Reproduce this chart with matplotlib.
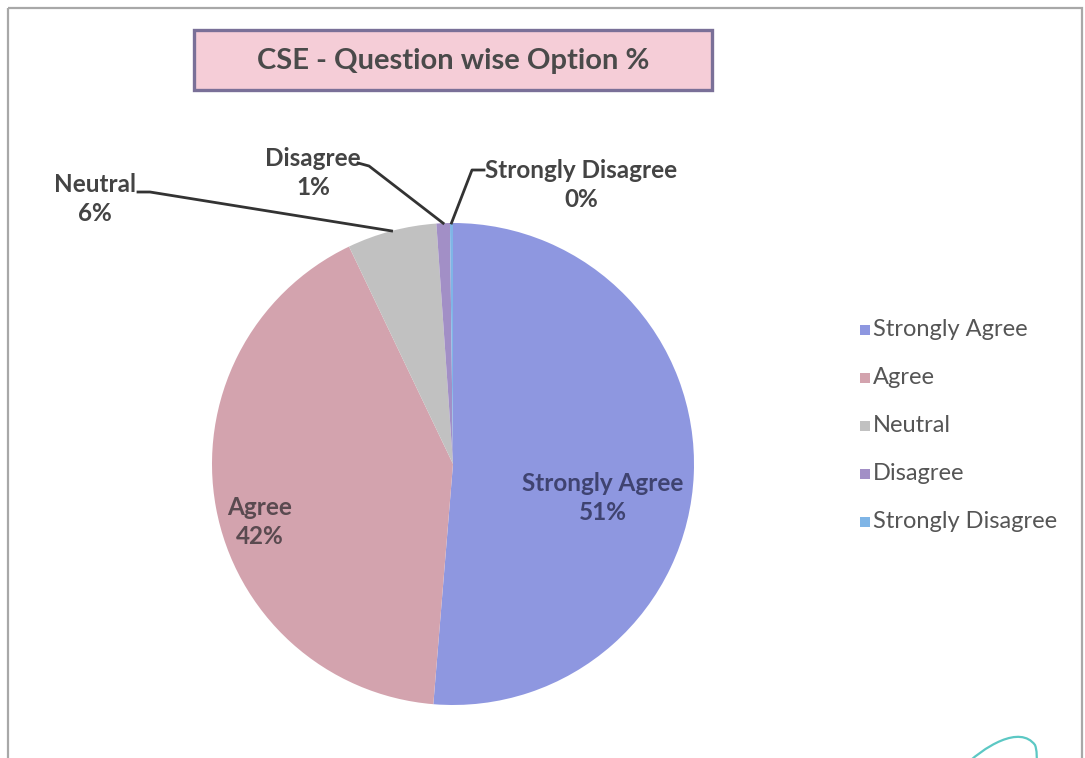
import numpy as np
import matplotlib
matplotlib.use("Agg")
import matplotlib.pyplot as plt
from matplotlib.patches import Rectangle, PathPatch
from matplotlib.path import Path

# ---- data ----
categories = ["Strongly Agree", "Agree", "Neutral", "Disagree", "Strongly Disagree"]
values = [51.3, 41.6, 6.0, 0.9, 0.2]
colors = ["#8E97E0", "#D3A3AE", "#C1C1C1", "#A28FC6", "#7FB5E6"]
title = "CSE - Question wise Option %"

W, H = 1085, 758
fig = plt.figure(figsize=(W / 100, H / 100), dpi=100)
fig.patch.set_facecolor("white")

# overlay axes in pixel coordinates
ov = fig.add_axes([0, 0, 1, 1])
ov.set_xlim(0, W)
ov.set_ylim(H, 0)
ov.axis("off")

txt_col = "#444444"
FONT = ["Lato", "DejaVu Sans"]

# outer chart frame
ov.add_patch(Rectangle((8, 8), 1074, 800, fill=False, ec="#A8A8A8", lw=1.6, clip_on=True))

# title box
ov.add_patch(Rectangle((194, 30), 518, 60, fc="#F5CDD7", ec="#7A7098", lw=2.4))
ov.text(453, 61, title, ha="center", va="center", fontsize=21, fontweight="bold",
        color="#4A4A4A", family=FONT)

# pie
cx, cy, r = 453, 464, 241
pax = fig.add_axes([(cx - r) / W, (H - cy - r) / H, 2 * r / W, 2 * r / H])
wedges, _ = pax.pie(values, colors=colors, startangle=90, counterclock=False,
                    radius=1.0, wedgeprops=dict(linewidth=0))
pax.set_xlim(-1, 1)
pax.set_ylim(-1, 1)
pax.set_aspect("equal")
pax.axis("off")

def edge_point(i, frac=1.0):
    w = wedges[i]
    th = np.deg2rad((w.theta1 + w.theta2) / 2)
    disp = pax.transData.transform((frac * np.cos(th), frac * np.sin(th)))
    return ov.transData.inverted().transform(disp)

labels = [f"{c}\n{round(v):.0f}%" for c, v in zip(categories, values)]

LFS = 17.5
LS = 1.32
# inside labels
ov.text(603, 498, labels[0], ha="center", va="center", fontsize=LFS, fontweight="bold",
        color="#3F4370", family=FONT, linespacing=LS)
ov.text(260, 522, labels[1], ha="center", va="center", fontsize=LFS, fontweight="bold",
        color="#5A4A50", family=FONT, linespacing=LS)

# outside labels with leader lines
outside = {
    2: dict(pos=(95, 199), path=[(138, 192), (150, 192)]),
    3: dict(pos=(313, 173), path=[(358, 163), (369, 166)]),
    4: dict(pos=(581, 185), path=[(484, 170), (472, 170)]),
}
for i, d in outside.items():
    ov.text(d["pos"][0], d["pos"][1], labels[i], ha="center", va="center", fontsize=LFS,
            fontweight="bold", color=txt_col, family=FONT, linespacing=LS)
    px, py = edge_point(i)
    xs = [p[0] for p in d["path"]] + [px]
    ys = [p[1] for p in d["path"]] + [py]
    ov.plot(xs, ys, color="#333333", lw=2.0, zorder=5)
ov.set_zorder(3)
ov.patch.set_alpha(0)

# legend
leg_y0, leg_dy = 330, 48
for k, (c, col) in enumerate(zip(categories, colors)):
    y = leg_y0 + k * leg_dy
    ov.add_patch(Rectangle((860, y - 5), 10, 10, fc=col, ec="none"))
    ov.text(873, y, c, ha="left", va="center", fontsize=17, color="#555555", family=FONT)

# pen scribble bottom right
verts = [(960, 770), (985, 745), (1020, 725), (1035, 745), (1038, 752), (1036, 770)]
codes = [Path.MOVETO, Path.CURVE4, Path.CURVE4, Path.CURVE4, Path.CURVE3, Path.CURVE3]
ov.add_patch(PathPatch(Path(verts, codes), fill=False, ec="#5CC8C4", lw=1.6))

fig.savefig("out.png", dpi=100, facecolor="white")
